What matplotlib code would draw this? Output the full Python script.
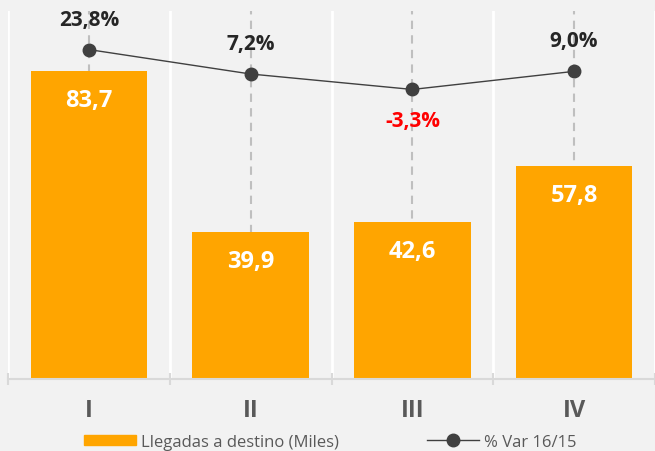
import matplotlib.pyplot as plt
import numpy as np

quarters = ["I", "II", "III", "IV"]
arrivals = [83.7, 39.9, 42.6, 57.8]
var_pct = [23.8, 7.2, -3.3, 9.0]

bg = "#F2F2F2"
orange = "#FFA500"
dark = "#404040"

plt.rcParams['font.family'] = ['Open Sans', 'DejaVu Sans']

fig = plt.figure(figsize=(6.55, 4.52), dpi=100)
fig.patch.set_facecolor(bg)
ax = fig.add_axes([8 / 655, 72 / 452, 647 / 655, 368 / 452])
ax.set_facecolor(bg)

x = np.arange(len(quarters))

# dashed guides at category centres and white separators between them
for xi in x:
    ax.axvline(xi, color="#BFBFBF", linestyle=(0, (4, 3)), linewidth=1.5, zorder=1)
for xb in np.arange(-0.5, 4, 1):
    ax.axvline(xb, color="white", linewidth=2, zorder=1)

bars = ax.bar(x, arrivals, width=0.72, color=orange, zorder=2)
for xi, v in zip(x, arrivals):
    ax.annotate(f"{v:.1f}".replace(".", ","), (xi, v), xytext=(0, -21),
                textcoords="offset points", ha="center", va="center",
                color="white", fontsize=17, fontweight="bold", zorder=5)

ax.set_xlim(-0.5, 3.5)
ax.set_ylim(0, 100)
ax.set_yticks([])
for s in ["left", "right", "top"]:
    ax.spines[s].set_visible(False)
ax.spines["bottom"].set_color("#D9D9D9")
ax.spines["bottom"].set_linewidth(1.5)
ax.set_xticks(x)
ax.set_xticklabels(quarters, fontsize=17, fontweight="bold", color="#595959")
ax.tick_params(axis="x", which="major", length=0, pad=14)
ax.set_xticks(np.arange(-0.5, 4, 1), minor=True)
ax.tick_params(axis="x", which="minor", length=9, direction="inout",
               color="#D9D9D9", width=1.5)

ax2 = ax.twinx()
ax2.set_ylim(-200, 50)
ax2.set_yticks([])
for s in ax2.spines.values():
    s.set_visible(False)
ax2.plot(x, var_pct, color=dark, linewidth=1, marker="o", markersize=9, zorder=4)
for xi, v in zip(x, var_pct):
    label = f"{v:.1f}%".replace(".", ",")
    if v < 0:
        ax2.annotate(label, (xi, v), xytext=(0, -22), textcoords="offset points",
                     ha="center", va="center", color="#FF0000",
                     fontsize=15, fontweight="bold")
    else:
        ax2.annotate(label, (xi, v), xytext=(0, 22), textcoords="offset points",
                     ha="center", va="center", color="#262626",
                     fontsize=15, fontweight="bold")

h1 = plt.Rectangle((0, 0), 1, 1, color=orange)
h2, = ax2.plot([], [], color=dark, linewidth=1, marker="o", markersize=9)
leg = fig.legend([h1, h2], ["Llegadas a destino (Miles)", "% Var 16/15"],
                 loc="center", bbox_to_anchor=(330 / 655, 1 - 443 / 452),
                 ncol=2, frameon=False, fontsize=12, handlelength=3.1,
                 handleheight=0.6, handletextpad=0.3, columnspacing=5.3)
for t in leg.get_texts():
    t.set_color("#595959")

fig.savefig("out.png", dpi=100, facecolor=bg)
